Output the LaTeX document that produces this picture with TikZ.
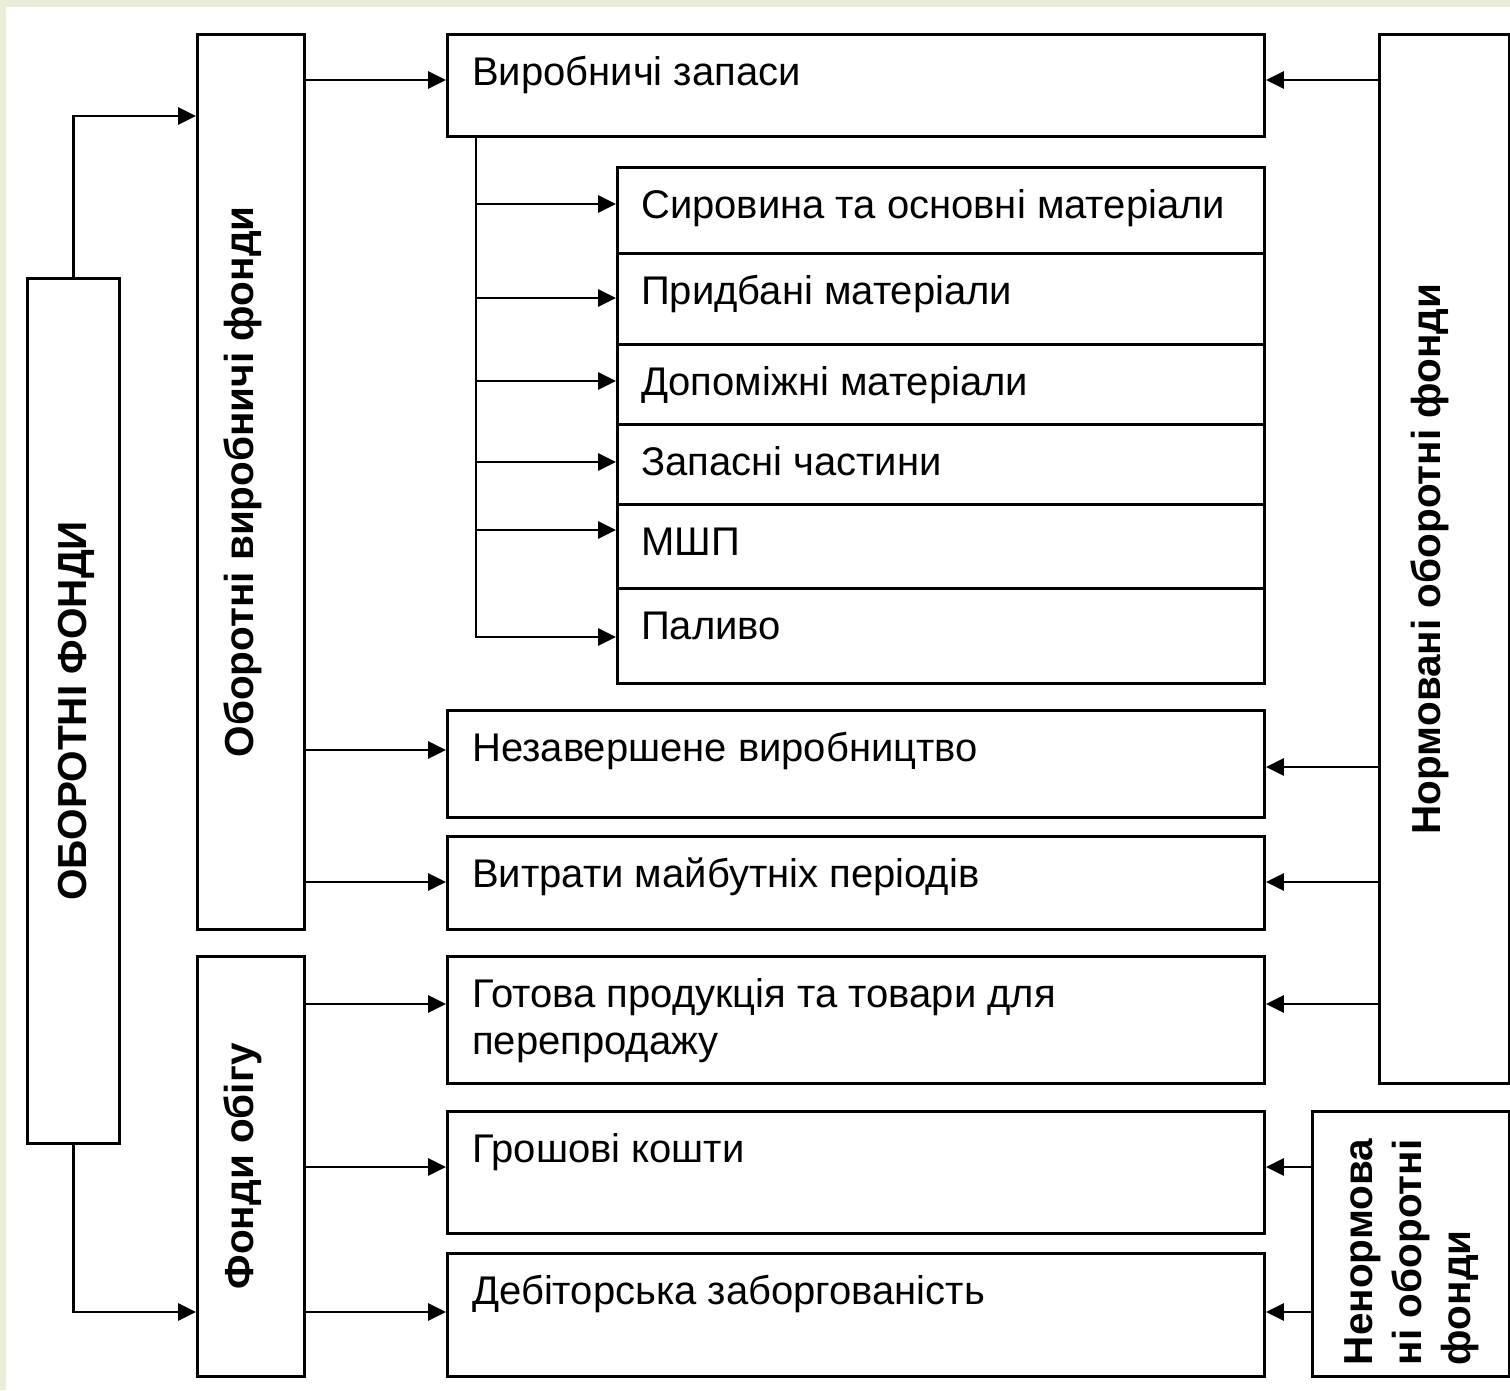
\documentclass[tikz,border=0pt]{standalone}
\usepackage{fontspec}
\setmainfont{Liberation Sans}
\usetikzlibrary{positioning, calc, arrows.meta}
\definecolor{slidegreen}{RGB}{232,238,216}

\begin{document}
\begin{tikzpicture}[x=1pt, y=-1pt,
    box/.style={draw, line width=2.9pt, anchor=north west, inner sep=0pt},
    txt/.style={anchor=base west, inner sep=0pt, align=left,
      font=\fontsize{40}{47}\selectfont},
    vtxt/.style={rotate=90, inner sep=0pt, align=left,
      font=\fontsize{40.5}{49}\selectfont\bfseries},
    arr/.style={line width=2.9pt, -{Triangle[length=18pt, width=17pt]}}]
  % slide background
  \useasboundingbox (0,0) rectangle (1510,1390);
  \fill[slidegreen] (0,0) rectangle (1510,1390);
  \fill[white] (6,7) rectangle (1510,1390);

  % left column
  \node[box, minimum width=92pt, minimum height=865pt] (oborotni) at (26,277) {};
  \node[box, minimum width=107pt, minimum height=895pt] (ovf) at (196,33) {};
  \node[box, minimum width=107pt, minimum height=420pt] (fo) at (196,955) {};
  \node[vtxt, anchor=mid] (oborotni-t) at ($(oborotni.center)+(10,0)$) {ОБОРОТНІ ФОНДИ};
  \node[vtxt, anchor=mid] (ovf-t) at (ovf.center) {Оборотні виробничі фонди};
  \node[vtxt, anchor=mid] (fo-t) at (fo.center) {Фонди обігу};

  % middle column
  \node[box, minimum width=817pt, minimum height=102pt] (zapasy) at (446,33) {};
  \node[box, minimum width=647pt, minimum height=86pt] (syrovyna) at (616,166) {};
  \node[box, minimum width=647pt, minimum height=91pt] (prydbani) at (616,252) {};
  \node[box, minimum width=647pt, minimum height=80pt] (dopomizhni) at (616,343) {};
  \node[box, minimum width=647pt, minimum height=80pt] (zapasni) at (616,423) {};
  \node[box, minimum width=647pt, minimum height=84pt] (mshp) at (616,503) {};
  \node[box, minimum width=647pt, minimum height=95pt] (palyvo) at (616,587) {};
  \node[box, minimum width=817pt, minimum height=107pt] (nezav) at (446,709) {};
  \node[box, minimum width=817pt, minimum height=93pt] (vytraty) at (446,835) {};
  \node[box, minimum width=817pt, minimum height=127pt] (gotova) at (446,955) {};
  \node[box, minimum width=817pt, minimum height=122pt] (groshi) at (446,1110) {};
  \node[box, minimum width=817pt, minimum height=123pt] (debit) at (446,1252) {};

  \node[txt] (zapasy-t) at ($(zapasy.north west)+(26,52)$) {Виробничі запаси};
  \node[txt] (syrovyna-t) at ($(syrovyna.north west)+(25,52)$) {Сировина та основні матеріали};
  \node[txt] (prydbani-t) at ($(prydbani.north west)+(25,52)$) {Придбані матеріали};
  \node[txt] (dopomizhni-t) at ($(dopomizhni.north west)+(25,52)$) {Допоміжні матеріали};
  \node[txt] (zapasni-t) at ($(zapasni.north west)+(25,52)$) {Запасні частини};
  \node[txt] (mshp-t) at ($(mshp.north west)+(25,52)$) {МШП};
  \node[txt] (palyvo-t) at ($(palyvo.north west)+(25,52)$) {Паливо};
  \node[txt] (nezav-t) at ($(nezav.north west)+(26,52)$) {Незавершене виробництво};
  \node[txt] (vytraty-t) at ($(vytraty.north west)+(26,52)$) {Витрати майбутніх періодів};
  \node[txt] (gotova-t) at ($(gotova.north west)+(26,99)$) {Готова продукція та товари для\\перепродажу};
  \node[txt] (groshi-t) at ($(groshi.north west)+(26,52)$) {Грошові кошти};
  \node[txt] (debit-t) at ($(debit.north west)+(26,52)$) {Дебіторська заборгованість};

  % right column
  \node[box, minimum width=130pt, minimum height=1049pt] (norm) at (1378,33) {};
  \node[box, minimum width=197pt, minimum height=265pt] (nenorm) at (1311,1110) {};
  \node[vtxt, anchor=mid] (norm-t) at ($(norm.center)+(-7,0)$) {Нормовані оборотні фонди};
  \node[vtxt] (nenorm-t) at ($(nenorm.center)+(1,8)$) {Ненормова\\ні оборотні\\фонди};

  % connectors
  \draw[arr] (oborotni.north) |- (ovf.west |- 0,116);
  \draw[arr] (oborotni.south) |- (fo.west |- 0,1312);

  \draw[arr] (ovf.east |- 0,80) -- (zapasy.west |- 0,80);
  \draw[arr] (ovf.east |- 0,750) -- (nezav.west |- 0,750);
  \draw[arr] (ovf.east |- 0,882) -- (vytraty.west |- 0,882);
  \draw[arr] (fo.east |- 0,1004) -- (gotova.west |- 0,1004);
  \draw[arr] (fo.east |- 0,1167) -- (groshi.west |- 0,1167);
  \draw[arr] (fo.east |- 0,1312) -- (debit.west |- 0,1312);

  \coordinate (trunk) at (476,0);
  \draw[arr] (zapasy.south -| trunk) |- (palyvo.west |- 0,637);
  \foreach \n/\y in {syrovyna/204, prydbani/298, dopomizhni/381, zapasni/462, mshp/530}
    \draw[arr] (trunk |- 0,\y) -- (\n.west |- 0,\y);

  \draw[arr] (norm.west |- 0,80) -- (zapasy.east |- 0,80);
  \draw[arr] (norm.west |- 0,767) -- (nezav.east |- 0,767);
  \draw[arr] (norm.west |- 0,882) -- (vytraty.east |- 0,882);
  \draw[arr] (norm.west |- 0,1004) -- (gotova.east |- 0,1004);
  \draw[arr] (nenorm.west |- 0,1167) -- (groshi.east |- 0,1167);
  \draw[arr] (nenorm.west |- 0,1312) -- (debit.east |- 0,1312);
\end{tikzpicture}
\end{document}
